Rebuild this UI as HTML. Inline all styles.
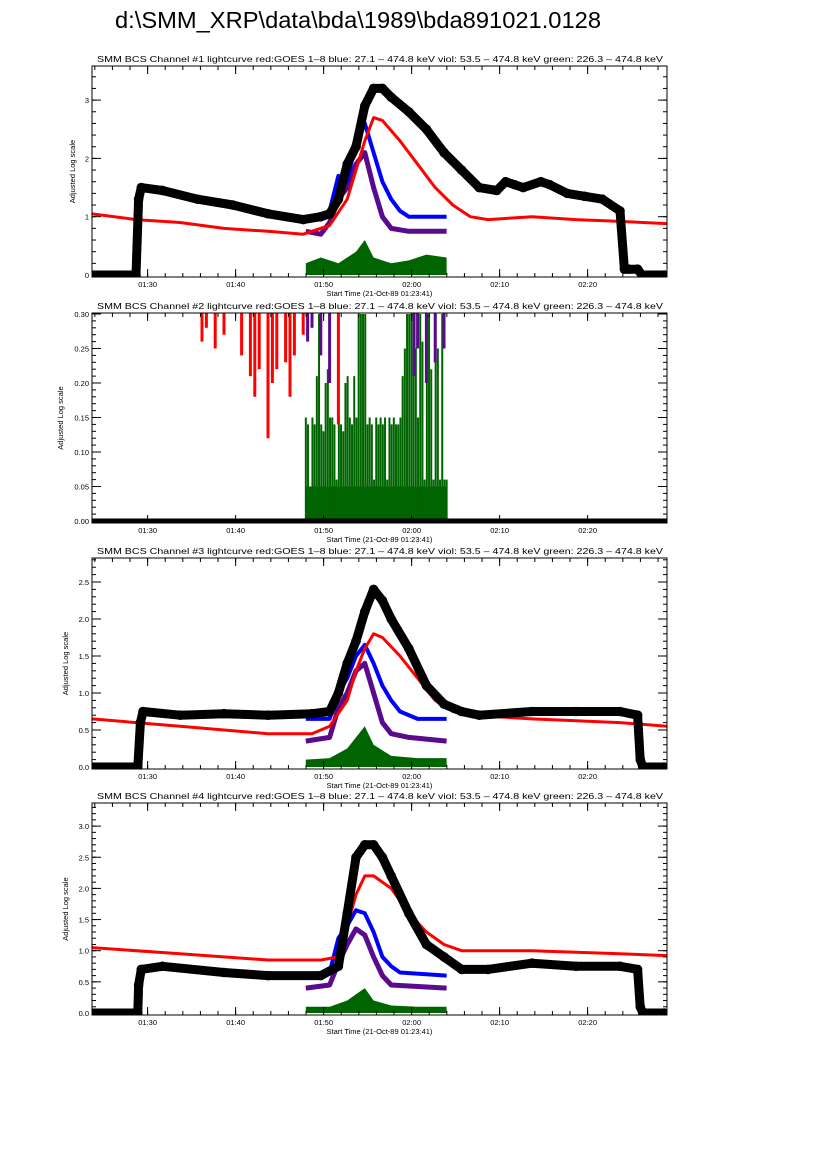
<!DOCTYPE html>
<html><head><meta charset="utf-8"><style>
body{margin:0;background:#fff;}
svg{display:block;font-family:"Liberation Sans",sans-serif;}
</style></head><body>
<svg id="chart" width="826" height="1169" viewBox="0 0 826 1169" xmlns="http://www.w3.org/2000/svg">
<rect width="826" height="1169" fill="#fff"/>
<text x="115" y="28" font-size="23" textLength="486" lengthAdjust="spacingAndGlyphs" fill="#000">d:\SMM_XRP\data\bda\1989\bda891021.0128</text>
</svg>
<script>
// time in minutes after 01:23:41
const xTickLabels = ["01:30","01:40","01:50","02:00","02:10","02:20"];
const xTickMinutes = [6.32,16.32,26.32,36.32,46.32,56.32];
const panelTitles = [
 "SMM BCS Channel #1 lightcurve  red:GOES 1\u20138  blue: 27.1 \u2013 474.8 keV  viol: 53.5 \u2013 474.8 keV  green: 226.3 \u2013 474.8 keV",
 "SMM BCS Channel #2 lightcurve  red:GOES 1\u20138  blue: 27.1 \u2013 474.8 keV  viol: 53.5 \u2013 474.8 keV  green: 226.3 \u2013 474.8 keV",
 "SMM BCS Channel #3 lightcurve  red:GOES 1\u20138  blue: 27.1 \u2013 474.8 keV  viol: 53.5 \u2013 474.8 keV  green: 226.3 \u2013 474.8 keV",
 "SMM BCS Channel #4 lightcurve  red:GOES 1\u20138  blue: 27.1 \u2013 474.8 keV  viol: 53.5 \u2013 474.8 keV  green: 226.3 \u2013 474.8 keV"];

// Panel 1
const p1BlackT = [0,5,5.3,5.6,8,12,16,20,24,26,27,28,29,30,31,32,33,34,36,38,40,42,44,46,47,48,49,51,52,54,56,58,60,60.5,61,62,62.5,65];
const p1BlackV = [0,0,1.3,1.5,1.45,1.3,1.2,1.05,0.95,1.0,1.05,1.3,1.9,2.2,2.9,3.2,3.2,3.05,2.8,2.5,2.1,1.8,1.5,1.45,1.6,1.55,1.5,1.6,1.55,1.4,1.35,1.3,1.1,0.1,0.1,0.1,0,0];
const p1RedT = [0,5,10,15,20,24,27,29,30,31,32,33,35,37,39,41,43,45,50,55,60,65.5];
const p1RedV = [1.05,0.95,0.9,0.8,0.75,0.7,0.85,1.3,1.8,2.3,2.7,2.65,2.3,1.9,1.5,1.2,1.0,0.95,1.0,0.95,0.92,0.88];
const p1BlueT = [24.3,26,27,28,29,30,31,32,33,34,35,36,38,40.3];
const p1BlueV = [1.0,0.95,1.1,1.7,1.6,2.3,2.6,2.1,1.6,1.3,1.1,1.0,1.0,1.0];
const p1ViolT = [24.3,26,27,28,29,30,31,32,33,34,36,38,40.3];
const p1ViolV = [0.75,0.7,0.9,1.3,1.5,1.9,2.1,1.5,1.0,0.8,0.75,0.75,0.75];
const p1GreenT = [24.3,26,28,30,31,32,34,36,38,40.3];
const p1GreenV = [0.2,0.3,0.2,0.4,0.6,0.3,0.2,0.25,0.35,0.3];

// Panel 2
const p2BlackT = [0,65.3];
const p2BlackV = [0,0];
const p2RedDropT = [12.5,13,14,15,17,18,18.5,19,20,20.5,21,22,22.5,23,24,28];
const p2RedDropV = [0.26,0.28,0.25,0.27,0.24,0.21,0.18,0.22,0.12,0.2,0.22,0.23,0.18,0.24,0.27,0.14];
const p2ViolDropT = [24.5,25,26,27,36.6,37,38,39,40];
const p2ViolDropV = [0.26,0.28,0.24,0.2,0.21,0.25,0.2,0.23,0.25];
const p2GreenT = [24.3,24.55,24.8,25.05,25.3,25.55,25.8,26.05,26.3,26.55,26.8,27.05,27.3,27.55,27.8,28.05,28.3,28.55,28.8,29.05,29.3,29.55,29.8,30.05,30.3,30.55,30.8,31.05,31.3,31.55,31.8,32.05,32.3,32.55,32.8,33.05,33.3,33.55,33.8,34.05,34.3,34.55,34.8,35.05,35.3,35.55,35.8,36.05,36.3,36.55,36.8,37.05,37.3,37.55,37.8,38.05,38.3,38.55,38.8,39.05,39.3,39.55,39.8,40.05,40.3];
const p2GreenV = [0.15,0.14,0.05,0.15,0.14,0.21,0.3,0.14,0.13,0.2,0.22,0.15,0.15,0.14,0.06,0.15,0.14,0.13,0.2,0.21,0.15,0.14,0.21,0.15,0.3,0.3,0.3,0.3,0.14,0.15,0.14,0.06,0.15,0.14,0.15,0.14,0.15,0.06,0.15,0.14,0.15,0.14,0.14,0.15,0.21,0.25,0.3,0.3,0.3,0.25,0.25,0.15,0.3,0.26,0.06,0.3,0.3,0.22,0.06,0.3,0.25,0.06,0.3,0.06,0.06];

// Panel 3
const p3BlackT = [0,5.2,5.5,5.8,10,15,20,25,27,28,29,30,31,32,33,34,36,38,40,42,44,50,55,60,62,62.3,62.6,65];
const p3BlackV = [0,0,0.6,0.75,0.7,0.72,0.7,0.72,0.75,1.0,1.4,1.7,2.1,2.4,2.25,2.0,1.6,1.1,0.85,0.75,0.7,0.75,0.75,0.75,0.7,0.1,0,0];
const p3RedT = [0,10,20,25,27,29,30,31,32,33,35,37,39,41,43,50,60,65.5];
const p3RedV = [0.65,0.55,0.45,0.45,0.55,0.9,1.3,1.6,1.8,1.75,1.5,1.2,0.9,0.75,0.7,0.65,0.6,0.55];
const p3BlueT = [24.3,27,28,29,30,31,32,33,34,35,37,40.3];
const p3BlueV = [0.65,0.65,1.0,1.2,1.5,1.65,1.4,1.1,0.9,0.75,0.65,0.65];
const p3ViolT = [24.3,27,28,29,30,31,32,33,34,36,40.3];
const p3ViolV = [0.35,0.4,0.8,1.0,1.3,1.4,1.0,0.6,0.45,0.4,0.35];
const p3GreenT = [24.3,27,29,30,31,32,34,37,40.3];
const p3GreenV = [0.1,0.12,0.25,0.4,0.55,0.3,0.15,0.12,0.12];

// Panel 4
const p4BlackT = [0,5.2,5.3,5.6,8,15,20,26,28,29,30,31,32,33,34,36,38,40,42,45,50,55,60,62,62.3,62.6,65];
const p4BlackV = [0,0,0.45,0.7,0.75,0.65,0.6,0.6,0.75,1.6,2.5,2.7,2.7,2.5,2.2,1.6,1.1,0.9,0.7,0.7,0.8,0.75,0.75,0.7,0.1,0,0];
const p4RedT = [0,10,20,26,28,29,30,31,32,34,36,38,40,42,50,60,65.5];
const p4RedV = [1.05,0.95,0.85,0.85,0.9,1.4,1.9,2.2,2.2,2.0,1.6,1.3,1.1,1.0,1.0,0.95,0.92];
const p4BlueT = [24.3,27,28,29,30,31,32,33,34,35,40.3];
const p4BlueV = [0.6,0.65,1.2,1.4,1.65,1.6,1.3,0.9,0.75,0.65,0.6];
const p4ViolT = [24.3,27,28,29,30,31,32,33,34,40.3];
const p4ViolV = [0.4,0.45,0.8,1.1,1.35,1.25,0.9,0.6,0.45,0.4];
const p4GreenT = [24.3,27,29,30,31,32,34,37,40.3];
const p4GreenV = [0.1,0.1,0.2,0.3,0.4,0.2,0.12,0.1,0.1];

const p1YTicks=[0,1,2,3], p1YLabels=["0","1","2","3"];
const p2YTicks=[0,0.05,0.1,0.15,0.2,0.25,0.3], p2YLabels=["0.00","0.05","0.10","0.15","0.20","0.25","0.30"];
const p3YTicks=[0,0.5,1,1.5,2,2.5], p3YLabels=["0.0","0.5","1.0","1.5","2.0","2.5"];
const p4YTicks=[0,0.5,1,1.5,2,2.5,3], p4YLabels=["0.0","0.5","1.0","1.5","2.0","2.5","3.0"];

const NS="http://www.w3.org/2000/svg";
const svg=document.getElementById('chart');
const X0=92, X1=667, PPM=8.8;
function xs(t){return X0+t*PPM;}
function mk(tag,attrs,parent){const e=document.createElementNS(NS,tag);for(const k in attrs)e.setAttribute(k,attrs[k]);(parent||svg).appendChild(e);return e;}

const panels=[
 {top:66,bot:277,y0:275,ppu:58.3,ymax:3.6,minor:0.2,ytx:75,yt:p1YTicks,yl:p1YLabels,bT:p1BlackT,bV:p1BlackV,rT:p1RedT,rV:p1RedV,blT:p1BlueT,blV:p1BlueV,vT:p1ViolT,vV:p1ViolV,gT:p1GreenT,gV:p1GreenV},
 {top:313,bot:523,y0:521,ppu:690,ymax:0.3,minor:0.01,ytx:63,yt:p2YTicks,yl:p2YLabels,bT:p2BlackT,bV:p2BlackV,p2:true},
 {top:558,bot:769,y0:767,ppu:74,ymax:2.82,minor:0.1,ytx:68,yt:p3YTicks,yl:p3YLabels,bT:p3BlackT,bV:p3BlackV,rT:p3RedT,rV:p3RedV,blT:p3BlueT,blV:p3BlueV,vT:p3ViolT,vV:p3ViolV,gT:p3GreenT,gV:p3GreenV},
 {top:803,bot:1015,y0:1013,ppu:62.3,ymax:3.37,minor:0.1,ytx:68,yt:p4YTicks,yl:p4YLabels,bT:p4BlackT,bV:p4BlackV,rT:p4RedT,rV:p4RedV,blT:p4BlueT,blV:p4BlueV,vT:p4ViolT,vV:p4ViolV,gT:p4GreenT,gV:p4GreenV}
];

panels.forEach((p,i)=>{
 const g=mk('g',{});
 
 
 const cid='clip'+i;
 const cp=mk('clipPath',{id:cid},g); mk('rect',{x:X0,y:p.top,width:X1-X0,height:p.bot-p.top},cp);
 const ys=v=>p.y0-v*p.ppu;
 const pts=(T,V)=>T.map((t,k)=>xs(t).toFixed(1)+','+ys(V[k]).toFixed(1)).join(' ');
 const plot=mk('g',{'clip-path':'url(#'+cid+')'},g);
 
 
 if(p.p2){
  const base=mk('rect',{x:xs(24.3),y:ys(0.05),width:xs(40.3)-xs(24.3),height:ys(0)-ys(0.05),fill:'#006400'},plot);
  
  
  p2GreenT.forEach((t,k)=>{const b=mk('line',{x1:xs(t),x2:xs(t),y1:ys(0),y2:ys(p2GreenV[k]),stroke:'#006400','stroke-width':2},plot);
   
   });
  p2RedDropT.forEach((t,k)=>{const b=mk('line',{x1:xs(t),x2:xs(t),y1:ys(0.31),y2:ys(p2RedDropV[k]),stroke:'#ff0000','stroke-width':3},plot);
   
   });
  p2ViolDropT.forEach((t,k)=>{const b=mk('line',{x1:xs(t),x2:xs(t),y1:ys(0.31),y2:ys(p2ViolDropV[k]),stroke:'#5a0a8c','stroke-width':3},plot);
   
   });
  const bl=mk('polyline',{points:pts(p.bT,p.bV),fill:'none',stroke:'#000','stroke-width':5,'stroke-linecap':'round'},plot);
  
  
 } else {
  const gp=mk('polygon',{points:xs(p.gT[0])+','+ys(0)+' '+pts(p.gT,p.gV)+' '+xs(p.gT[p.gT.length-1])+','+ys(0),fill:'#006400'},plot);
  
  
  const vl=mk('polyline',{points:pts(p.vT,p.vV),fill:'none',stroke:'#5a0a8c','stroke-width':5,'stroke-linejoin':'round'},plot);
  
  
  const bu=mk('polyline',{points:pts(p.blT,p.blV),fill:'none',stroke:'#0000ff','stroke-width':4,'stroke-linejoin':'round'},plot);
  
  
  const rd=mk('polyline',{points:pts(p.rT,p.rV),fill:'none',stroke:'#ff0000','stroke-width':3,'stroke-linejoin':'round'},plot);
  
  
  const bl=mk('polyline',{points:pts(p.bT,p.bV),fill:'none',stroke:'#000','stroke-width':9,'stroke-linecap':'round','stroke-linejoin':'round'},plot);
  
  
  p.bT.forEach((t,k)=>{const c=mk('circle',{cx:xs(t),cy:ys(p.bV[k]),r:4.8,fill:'#000'},plot);
   
   });
 }
 const fr=mk('rect',{x:X0,y:p.top,width:X1-X0,height:p.bot-p.top,fill:'none',stroke:'#000','stroke-width':1},g);
 
 
 const tk=mk('g',{stroke:'#000','stroke-width':1},g);
 for(let t=0.32;t<=65.5;t+=2){const x=xs(t);mk('line',{x1:x,x2:x,y1:p.bot,y2:p.bot-4},tk);mk('line',{x1:x,x2:x,y1:p.top,y2:p.top+4},tk);}
 xTickMinutes.forEach((t,k)=>{const x=xs(t);mk('line',{x1:x,x2:x,y1:p.bot,y2:p.bot-8},tk);mk('line',{x1:x,x2:x,y1:p.top,y2:p.top+8},tk);
  const tx=mk('text',{x:x,y:p.bot+10,'font-size':7.5,'text-anchor':'middle',stroke:'none',fill:'#000'},g);tx.textContent=xTickLabels[k];
  
  });
 for(let v=0;v<=p.ymax+1e-9;v+=p.minor){const y=ys(v);if(y<p.top)continue;mk('line',{x1:X0,x2:X0+4,y1:y,y2:y},tk);mk('line',{x1:X1,x2:X1-4,y1:y,y2:y},tk);}
 p.yt.forEach((v,k)=>{const y=ys(v);mk('line',{x1:X0,x2:X0+9,y1:y,y2:y},tk);mk('line',{x1:X1,x2:X1-9,y1:y,y2:y},tk);
  const tx=mk('text',{x:X0-3,y:y+3,'font-size':7.5,'text-anchor':'end',fill:'#000'},g);tx.textContent=p.yl[k];
  
  });
 const tt=mk('text',{x:97,y:p.top-4,'font-size':8.5,textLength:566,lengthAdjust:'spacingAndGlyphs',fill:'#000'},g);tt.textContent=panelTitles[i];
 
 
 const xt=mk('text',{x:(X0+X1)/2,y:p.bot+19,'font-size':7.5,'text-anchor':'middle',fill:'#000'},g);xt.textContent='Start Time (21-Oct-89 01:23:41)';
 
 
 const cy=(p.top+p.bot)/2, yx=p.ytx;
 const yt=mk('text',{x:yx,y:cy,'font-size':7.5,'text-anchor':'middle',transform:'rotate(-90 '+yx+' '+cy+')',fill:'#000'},g);yt.textContent='Adjusted Log scale';
 
 
});
</script>
</body></html>
